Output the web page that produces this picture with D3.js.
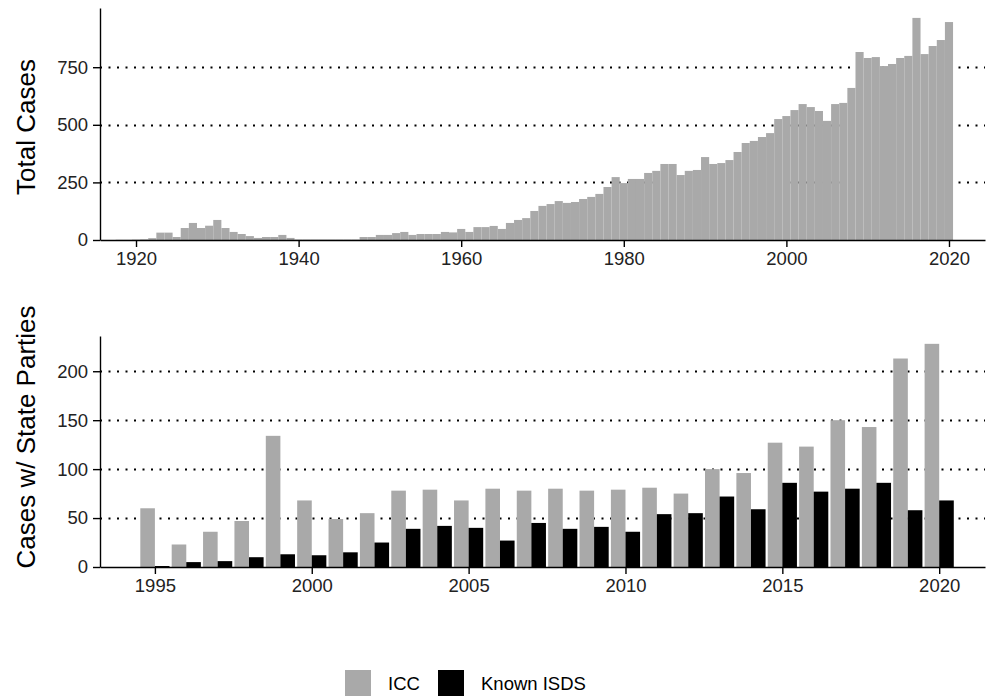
<!DOCTYPE html>
<html>
<head>
<meta charset="utf-8">
<script src="https://cdn.jsdelivr.net/npm/d3@7"></script>
<style>
    html, body { margin: 0; padding: 0; background: #fff; }
    svg { display: block; font-family: "Liberation Sans", Arial, Helvetica, sans-serif; }
    .axis path, .axis line { stroke: #000; stroke-width: 1.4; }
    .axis text { fill: #222; font-size: 18.5px; }
    .grid line { stroke: #000; stroke-width: 2; stroke-dasharray: 2 6.5; }
</style>
</head>
<body>
<svg id="chart" width="986" height="696"></svg>
<script>
// ── Data ─────────────────────────────────────────────────────────────────────
// top panel: total cases per year, starting 1918
const TOTAL_START = 1918;
const totalCases = [
    1, 1,                                          // 1918-1919
    2, 3, 8, 32, 32, 13, 52, 74, 52, 62,           // 1920s
    87, 52, 35, 26, 17, 9, 13, 13, 22, 9,          // 1930s
    2, 2, 2, 2, 2, 2, 2, 2, 13, 13,                // 1940s
    22, 22, 30, 35, 22, 26, 26, 26, 35, 33,        // 1950s
    48, 35, 56, 56, 61, 48, 74, 87, 95, 126,       // 1960s
    148, 156, 169, 161, 165, 178, 187, 200, 230, 273, // 1970s
    247, 265, 265, 291, 300, 330, 330, 282, 300, 304, // 1980s
    360, 330, 334, 347, 382, 421, 430, 447, 464, 525, // 1990s
    538, 564, 590, 577, 560, 517, 590, 595, 660, 816, // 2000s
    790, 794, 755, 764, 790, 799, 964, 807, 842, 868, // 2010s
    946                                            // 2020
];
const totalTicksX = [1920, 1940, 1960, 1980, 2000, 2020];
const totalTicksY = [0, 250, 500, 750];

// bottom panel: cases with state parties
const stateYears = [1994, 1995, 1996, 1997, 1998, 1999, 2000, 2001, 2002, 2003, 2004, 2005, 2006, 2007,
                    2008, 2009, 2010, 2011, 2012, 2013, 2014, 2015, 2016, 2017, 2018, 2019, 2020, 2021];
const iccCases  = [0, 60, 23, 36, 47, 134, 68, 49, 55, 78, 79, 68, 80, 78,
                   80, 78, 79, 81, 75, 100, 96, 127, 123, 150, 143, 213, 228, 0];
const isdsCases = [0, 1, 5, 6, 10, 13, 12, 15, 25, 39, 42, 40, 27, 45,
                   39, 41, 36, 54, 55, 72, 59, 86, 77, 80, 86, 58, 68, 0];
const stateTicksX = [1995, 2000, 2005, 2010, 2015, 2020];
const stateTicksY = [0, 50, 100, 150, 200];

const legendItems = [
    { label: "ICC",        color: "#a9a9a9" },
    { label: "Known ISDS", color: "#000000" },
];

const GREY = "#a9a9a9";

const svg = d3.select("#chart");

// ── Shared helpers ───────────────────────────────────────────────────────────
function drawGrid(g, y, ticks, x0, x1) {
    g.append("g").attr("class", "grid")
        .selectAll("line")
        .data(ticks.filter(t => t !== 0))
        .join("line")
        .attr("x1", x0).attr("x2", x1)
        .attr("y1", d => Math.round(y(d)) + 0.5).attr("y2", d => Math.round(y(d)) + 0.5);
}

function drawAxes(g, x, y, xTicks, yTicks, yBase) {
    g.append("g").attr("class", "axis")
        .attr("transform", `translate(0,${yBase})`)
        .call(d3.axisBottom(x).tickValues(xTicks).tickFormat(d3.format("d"))
            .tickSize(7).tickSizeOuter(0).tickPadding(5));
    g.append("g").attr("class", "axis")
        .attr("transform", "translate(100,0)")
        .call(d3.axisLeft(y).tickValues(yTicks).tickSize(7).tickSizeOuter(0).tickPadding(5));
}

function yTitle(text, cy) {
    svg.append("text")
        .attr("transform", `translate(35,${cy}) rotate(-90)`)
        .attr("text-anchor", "middle")
        .attr("font-size", 26)
        .attr("fill", "#000")
        .text(text);
}

// ── Top panel: total cases ───────────────────────────────────────────────────
{
    const x = d3.scaleLinear().domain([1915.57, 2024.43]).range([100, 985]);
    const y = d3.scaleLinear().domain([0, 1007]).range([240, 8]);
    const g = svg.append("g");

    drawGrid(g, y, totalTicksY, 100, 985);

    g.append("g").selectAll("rect")
        .data(totalCases)
        .join("rect")
        .attr("x", (_, i) => x(TOTAL_START + i - 0.5))
        .attr("width", (_, i) => x(TOTAL_START + i + 0.5) - x(TOTAL_START + i - 0.5))
        .attr("y", d => y(d))
        .attr("height", d => y(0) - y(d))
        .attr("fill", GREY);

    drawAxes(g, x, y, totalTicksX, totalTicksY, 240);
    yTitle("Total Cases", 127);
}

// ── Bottom panel: cases with state parties ───────────────────────────────────
{
    const x = d3.scaleLinear().domain([1993.25, 2021.46]).range([100, 985]);
    const y = d3.scaleLinear().domain([0, 236]).range([567, 336]);
    const w = 0.465;
    const g = svg.append("g");

    drawGrid(g, y, stateTicksY, 100, 985);

    const rows = stateYears.map((yr, i) => ({ yr, icc: iccCases[i], isds: isdsCases[i] }));

    g.append("g").selectAll("rect")
        .data(rows)
        .join("rect")
        .attr("x", d => x(d.yr - w))
        .attr("width", x(1) - x(1 - w))
        .attr("y", d => y(d.icc))
        .attr("height", d => y(0) - y(d.icc))
        .attr("fill", GREY);

    g.append("g").selectAll("rect")
        .data(rows)
        .join("rect")
        .attr("x", d => x(d.yr))
        .attr("width", x(1 + w) - x(1))
        .attr("y", d => y(d.isds))
        .attr("height", d => y(0) - y(d.isds))
        .attr("fill", "#000");

    drawAxes(g, x, y, stateTicksX, stateTicksY, 567);
    yTitle("Cases w/ State Parties", 437);
}

// ── Legend ───────────────────────────────────────────────────────────────────
{
    const lg = svg.append("g").attr("transform", "translate(345,670)");
    const offsets = [0, 93];
    legendItems.forEach((item, i) => {
        const it = lg.append("g").attr("transform", `translate(${offsets[i]},0)`);
        it.append("rect").attr("width", 26).attr("height", 26).attr("fill", item.color);
        it.append("text").attr("x", 43).attr("y", 20)
            .attr("font-size", 18.5).attr("fill", "#000")
            .text(item.label);
    });
}
</script>
</body>
</html>
